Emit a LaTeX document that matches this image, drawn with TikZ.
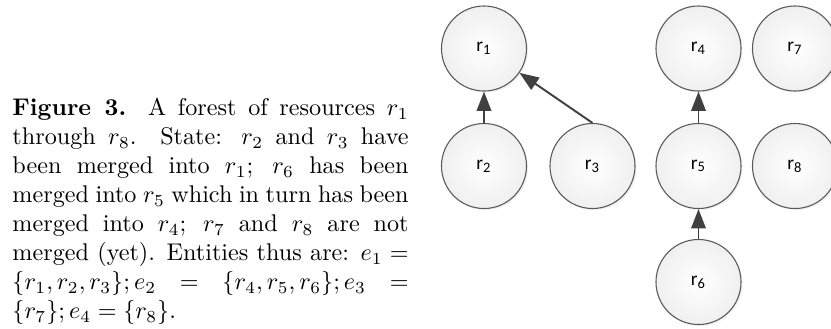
\documentclass[tikz,border=0pt]{standalone}
\usepackage{fontspec}
\newfontfamily\labelfont{Carlito}
\usetikzlibrary{arrows.meta, shadows}
\definecolor{edgegray}{RGB}{64, 64, 64}
\definecolor{rimgray}{RGB}{90, 90, 90}

\begin{document}
\begin{tikzpicture}[x=0.414pt, y=0.414pt,
        resbox/.style={circle, draw=rimgray, line width=0.45pt, minimum size=35.2pt, inner sep=0pt,
                     inner color=white, outer color=black!6,
                     drop shadow={opacity=0.1, shadow xshift=0.7pt, shadow yshift=-0.7pt},
                     font=\labelfont\fontsize{8}{9}\selectfont}
    ]
        \useasboundingbox (0,0) rectangle (831,328);
        \node[anchor=north west, inner sep=0pt, text width=164pt, align=justify] (cap) at (12,230)
            {\textbf{Figure 3.} A forest of resources $r_1$\linebreak through $r_8$. State: $r_2$ and $r_3$ have\linebreak been merged into $r_1$; $r_6$ has been\linebreak merged into $r_5$ which in turn has been\linebreak merged into $r_4$; $r_7$ and $r_8$ are not\linebreak merged (yet). Entities thus are: $e_1 =$\linebreak $\{r_1, r_2, r_3\}; e_2 = \{r_4, r_5, r_6\}; e_3 =$\linebreak $\{r_7\}; e_4 = \{r_8\}$.};
        \node[resbox] (r1) at (484,279.5) {r\textsubscript{1}};
        \node[resbox] (r2) at (484,162)   {r\textsubscript{2}};
        \node[resbox] (r3) at (592.5,162) {r\textsubscript{3}};
        \node[resbox] (r4) at (698.5,279.5) {r\textsubscript{4}};
        \node[resbox] (r5) at (698.5,162) {r\textsubscript{5}};
        \node[resbox] (r6) at (698.5,46)  {r\textsubscript{6}};
        \node[resbox] (r7) at (795,279.5) {r\textsubscript{7}};
        \node[resbox] (r8) at (795,162)   {r\textsubscript{8}};
        \foreach \a/\b in {r2/r1, r3/r1, r5/r4, r6/r5}
            \draw[-{Triangle[length=8pt, width=6pt]}, line width=0.8pt, edgegray] (\a.north) -- (\b);
    \end{tikzpicture}
\end{document}
